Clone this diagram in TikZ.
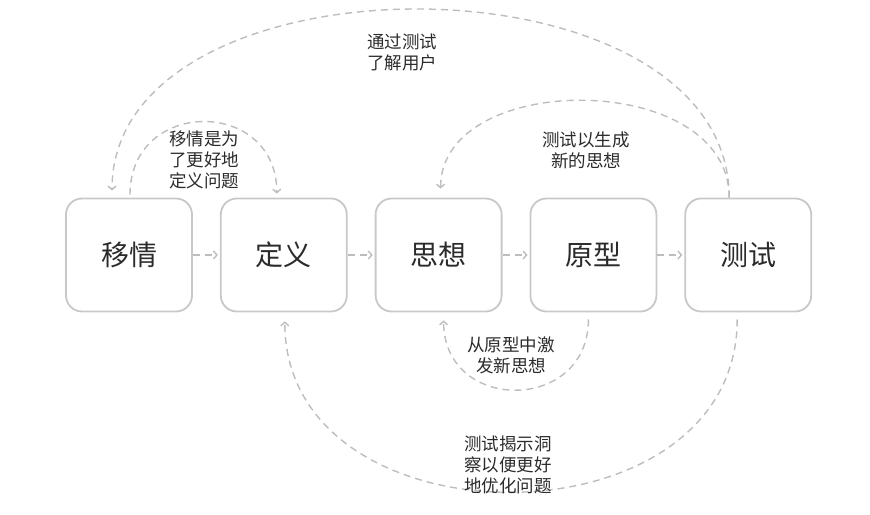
\documentclass[tikz,border=0pt]{standalone}
\usepackage{fontspec}
\setmainfont{Noto Sans CJK SC}
\usetikzlibrary{positioning,arrows.meta}
\definecolor{boxgray}{HTML}{C8C8C8}
\definecolor{dashgray}{HTML}{BDBDBD}
\definecolor{textgray}{HTML}{2B2B2B}
\begin{document}
\begin{tikzpicture}[x=1pt,y=1pt,node distance=27pt]
  \tikzstyle{stage}=[draw=boxgray,line width=1.8pt,rounded corners=16pt,minimum width=126pt,minimum height=113pt,text=textgray,font=\fontsize{28}{30}\selectfont]
  \tikzstyle{note}=[text=textgray,align=center,font=\fontsize{17.5}{21}\selectfont]
  \tikzstyle{flow}=[draw=dashgray,line width=1.4pt,dash pattern=on 7pt off 5pt,-{Straight Barb[length=3.5pt,width=8pt]}]
  \useasboundingbox (0,0) rectangle (870,514);
  % the five stages
  \node[stage] (empathy) at (129,259) {移情};
  \node[stage,right=of empathy] (define) {定义};
  \node[stage,right=of define] (ideate) {思想};
  \node[stage,right=of ideate] (proto) {原型};
  \node[stage,right=of proto] (test) {测试};
  \draw[flow,shorten >=2pt] (empathy) -- (define);
  \draw[flow,shorten >=2pt] (define) -- (ideate);
  \draw[flow,shorten >=2pt] (ideate) -- (proto);
  \draw[flow,shorten >=2pt] (proto) -- (test);
  % loops back
  \draw[flow,shorten >=7pt] ([xshift=-19pt]test.north) .. controls +(0,250) and +(0,250) .. ([xshift=-17pt]empathy.north);
  \draw[flow,shorten >=9pt] ([xshift=-19pt]test.north) .. controls +(0,128) and +(0,128) .. ([xshift=2pt]ideate.north);
  \draw[flow,shorten >=4pt,shorten <=3pt] ([xshift=1pt]empathy.north) .. controls +(0,100) and +(0,100) .. ([xshift=-7pt]define.north);
  \draw[flow,shorten >=8pt,shorten <=7pt] ([xshift=-5pt]proto.south) .. controls +(0,-101) and +(0,-101) .. ([xshift=5pt]ideate.south);
  \draw[flow,shorten >=9pt,shorten <=7pt] ([xshift=-11pt]test.south) .. controls +(0,-237) and +(0,-237) .. ([xshift=1pt]define.south);
  % labels
  \node[note] (testuser) at (402,462) {通过测试\\了解用户};
  \node[note] (testidea) at (586,364) {测试以生成\\新的思想};
  \node[note] (empdef) at (204,354) {移情是为\\了更好地\\定义问题};
  \node[note] (protoidea) at (511,159) {从原型中激\\发新思想};
  \node[note] (testdef) at (508,49) {测试揭示洞\\察以便更好\\地优化问题};
\end{tikzpicture}
\end{document}
